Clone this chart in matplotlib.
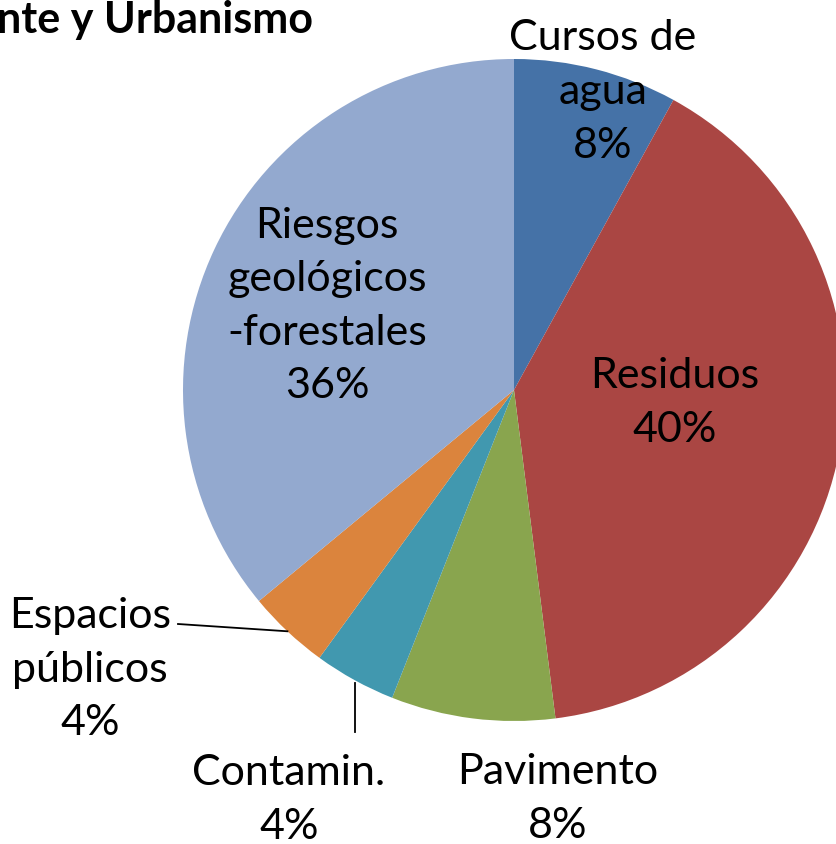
import numpy as np
import matplotlib
matplotlib.use('Agg')
import matplotlib.pyplot as plt

# datos del gráfico
categorias = ['Cursos de\nagua', 'Residuos', 'Pavimento', 'Contamin.',
              'Espacios\npúblicos', 'Riesgos\ngeológicos\n-forestales']
porcentajes = [8, 40, 8, 4, 4, 36]
colores = ['#4572A7', '#AA4643', '#89A54E', '#4198AF', '#DB843D', '#93A9CF']
titulo = 'nte y Urbanismo'

plt.rcParams['font.family'] = ['Lato', 'DejaVu Sans']

W, H = 836, 845
fig = plt.figure(figsize=(W / 100, H / 100), dpi=100)
ax = fig.add_axes([0, 0, 1, 1])

cx, cy, r = 514, 391, 331
# eje y invertido: counterclock=True se ve en sentido horario
wedges, _ = ax.pie(porcentajes, colors=colores, startangle=-90, counterclock=True,
                   center=(cx, cy), radius=r, wedgeprops=dict(linewidth=0))
ax.set_xlim(0, W)
ax.set_ylim(H, 0)
ax.set_aspect('equal')
ax.axis('off')

# posiciones de las etiquetas (centro del bloque de texto, en píxeles)
pos_etiquetas = [(603, 92), (675, 403), (558, 799), (289, 800), (90, 670), (327, 306)]
fs = 31
for cat, val, (tx, ty) in zip(categorias, porcentajes, pos_etiquetas):
    ax.text(tx, ty, f'{cat}\n{val}%', ha='center', va='center', fontsize=fs,
            linespacing=1.5, color='black')

# líneas guía para las porciones pequeñas
def punto_borde(w):
    ang = np.deg2rad((w.theta1 + w.theta2) / 2)
    return cx + r * np.cos(ang), cy + r * np.sin(ang)

ex, ey = punto_borde(wedges[4])
ax.plot([178, ex], [625, ey], color='black', lw=1.3)
qx, qy = punto_borde(wedges[3])
ax.plot([qx, qx], [qy + 3, 733], color='black', lw=1.3)

ax.text(313, 20, titulo, ha='right', va='center', fontsize=31, fontweight='bold')

plt.savefig('out.png', dpi=100)
